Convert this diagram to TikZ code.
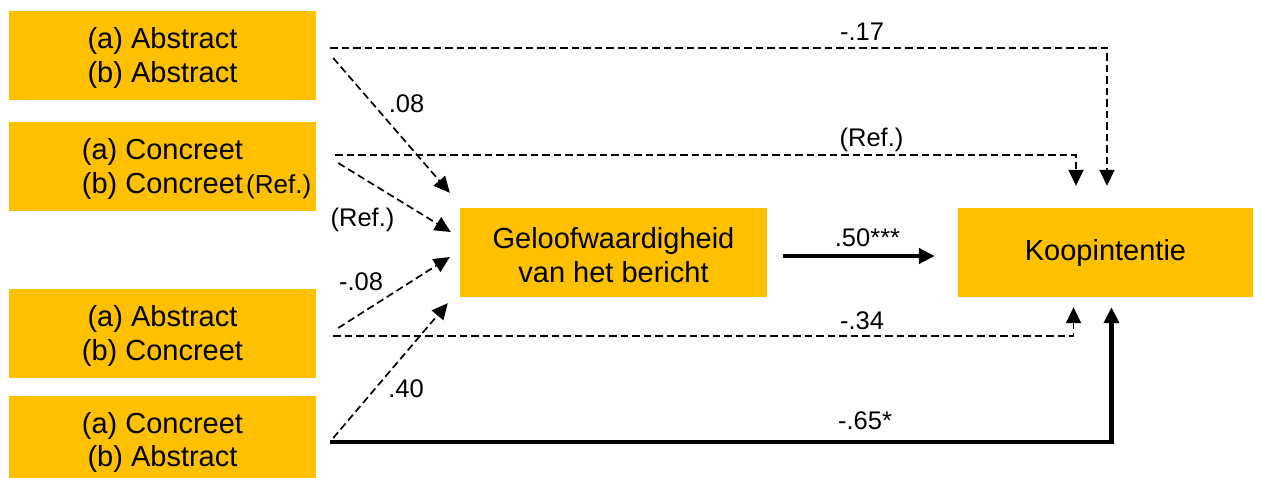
\documentclass[tikz,border=0pt]{standalone}
\usepackage{fontspec}
\setmainfont{Liberation Sans}
\usetikzlibrary{arrows.meta,calc}
\definecolor{gold}{HTML}{FFC000}
\newcommand\tallstrut{\rule{0pt}{26pt}}

\begin{document}
\begin{tikzpicture}[x=1pt,y=-1pt,
  box/.style={fill=gold, draw=none, minimum width=307pt, minimum height=89pt,
    inner sep=0pt, align=center, font=\fontsize{29}{33.5}\selectfont},
  lbl/.style={font=\fontsize{25.5}{30}\selectfont, anchor=base, inner sep=0pt},
  dsh/.style={line width=1.7pt, dash pattern=on 7.5pt off 4pt},
  bold/.style={line width=4.3pt},
  tip/.style={-{Triangle[width=15pt,length=16pt]}}
]
\clip (0,0) rectangle (1263,477);
\fill[white] (0,0) rectangle (1263,477);

% condition boxes
\node[box] (a1) at (162.5,55.5) {\tallstrut(a) Abstract\\(b) Abstract};
\node[box] (a2) at (162.5,166.5) {\tallstrut(a) Concreet\\(b) Concreet};
\node[lbl, anchor=base west, font=\fontsize{26}{30}\selectfont] (r2) at (246,193) {(Ref.)};
\node[box] (a3) at (162.5,333.5) {\tallstrut(a) Abstract\\(b) Concreet};
\node[box] (a4) at (162.5,440) {\tallstrut(a) Concreet\\(b) Abstract};

% mediator and outcome
\node[box] (g) at (613.5,252.5) {\tallstrut Geloofwaardigheid\\van het bericht};
\node[box, minimum width=295pt] (k) at (1105.5,252.5) {Koopintentie};

% start points of the paths
\coordinate (s1h) at ($(a1.east)+(14,-7.5)$);
\coordinate (s1d) at ($(a1.east)+(17,2.5)$);
\coordinate (s2h) at ($(a2.east)+(19,-11.5)$);
\coordinate (s2d) at ($(a2.east)+(22,-3.5)$);
\coordinate (s3h) at ($(a3.east)+(17,2.5)$);
\coordinate (s3d) at ($(a3.east)+(22,-5.5)$);
\coordinate (s4h) at ($(a4.east)+(14,2)$);
\coordinate (s4d) at ($(a4.east)+(17,-2)$);

% paths to the mediator
\draw[dsh,tip] (s1d) -- ($(g.north west)+(-10,-15)$);
\draw[dsh,tip] (s2d) -- ($(g.west)+(-9,-20.5)$);
\draw[dsh,tip] (s3d) -- ($(g.west)+(-10,4.5)$);
\draw[dsh,tip] (s4d) -- ($(g.south west)+(-12,6)$);

% direct paths to the outcome
\draw[dsh,tip] (s1h) -| ($(k.north)+(1.5,-22)$);
\draw[dsh,tip] (s2h) -| ($(k.north)+(-29.5,-22)$);
\draw[dsh,tip] (s3h) -| ($(k.south)+(-32,10)$);
\draw[bold,tip] (s4h) -| ($(k.south)+(6,10)$);

% mediator to outcome
\draw[bold,tip] ($(g.east)+(16,3.5)$) -- ($(k.west)+(-23,3.5)$);

% coefficients
\node[lbl] (l1) at (406.5,112) {.08};
\node[lbl] (l2) at (362.5,226) {(Ref.)};
\node[lbl] (l3) at (361,290) {-.08};
\node[lbl] (l4) at (406,397.7) {.40};
\node[lbl] (l5) at (862,40) {-.17};
\node[lbl] (l6) at (871.5,146.7) {(Ref.)};
\node[lbl] (l7) at (862,329) {-.34};
\node[lbl] (l8) at (865,429) {-.65*};
\node[lbl] (l9) at (867.5,246.7) {.50***};
\end{tikzpicture}
\end{document}
